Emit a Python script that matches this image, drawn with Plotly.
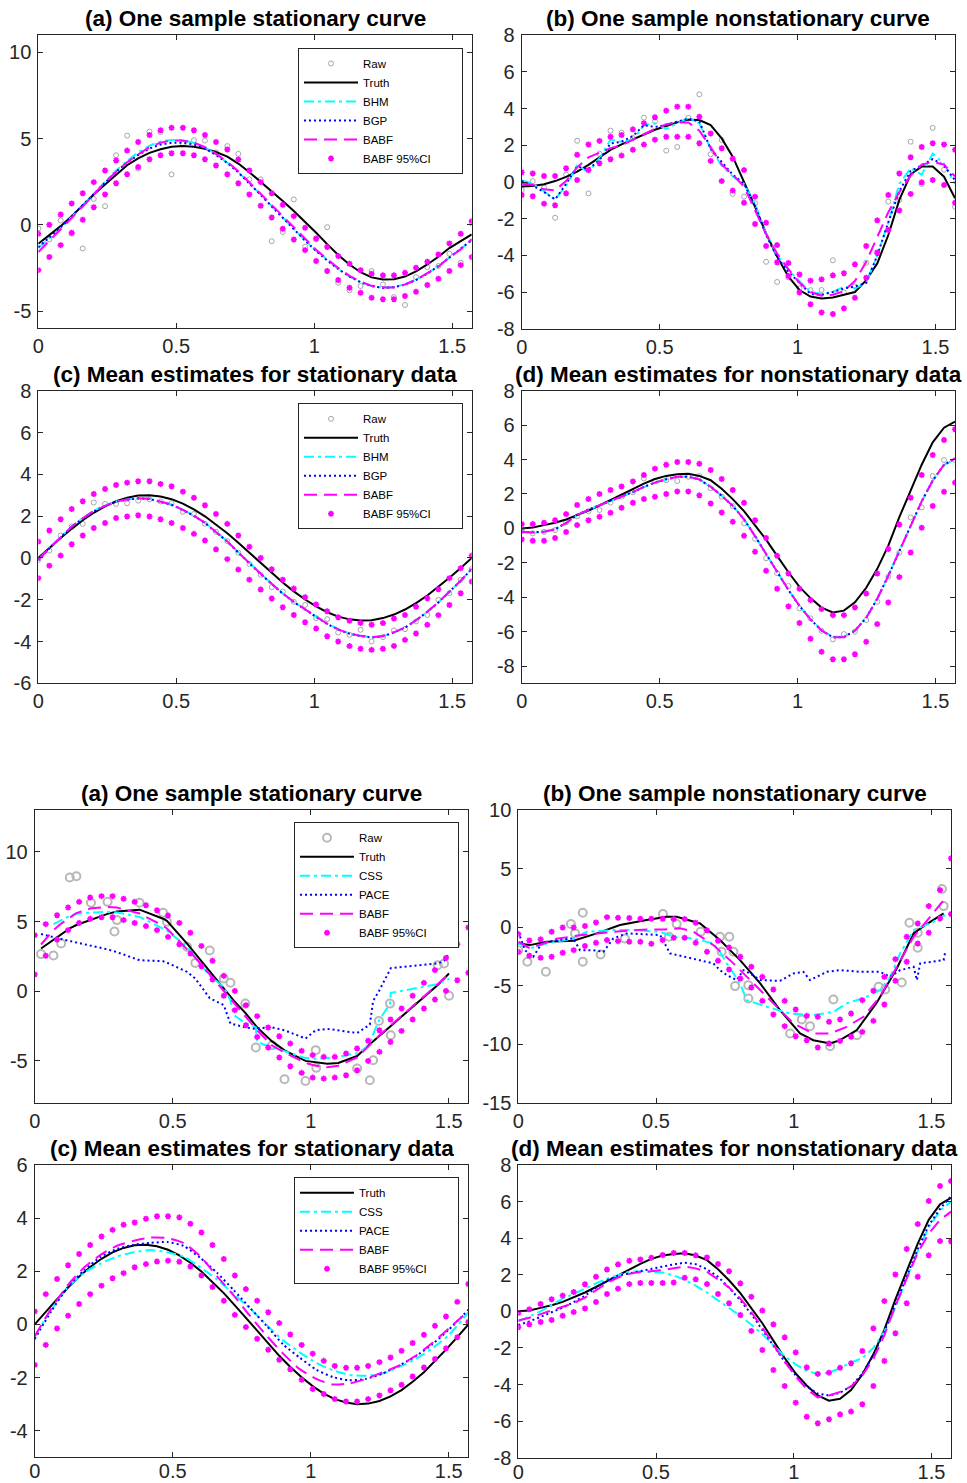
import plotly.graph_objects as go

W, H = 967, 1483
FONT = "Liberation Sans, Arial, Helvetica, sans-serif"

# common evaluation grid (0 .. pi/2, 40 points)
X40 = [0.000, 0.040, 0.081, 0.121, 0.161, 0.201, 0.242, 0.282, 0.322, 0.362,
       0.403, 0.443, 0.483, 0.524, 0.564, 0.604, 0.644, 0.685, 0.725, 0.765,
       0.806, 0.846, 0.886, 0.926, 0.967, 1.007, 1.047, 1.087, 1.128, 1.168,
       1.208, 1.249, 1.289, 1.329, 1.369, 1.410, 1.450, 1.490, 1.531, 1.571]

# shared truths
TRUTH_S = [0, 0.48, 0.95, 1.39, 1.80, 2.16, 2.47, 2.71, 2.88, 2.98, 3.0, 2.94, 2.81, 2.6, 2.32,
           1.99, 1.6, 1.18, 0.72, 0.24, -0.24, -0.72, -1.18, -1.6, -1.99, -2.32, -2.6, -2.81,
           -2.94, -3.0, -2.98, -2.88, -2.71, -2.47, -2.16, -1.8, -1.39, -0.95, -0.48, 0.0]
TRUTH_NS = [0.0, 0.05, 0.19, 0.33, 0.52, 0.76, 1.03, 1.33, 1.65, 1.97, 2.29, 2.6, 2.87, 3.05,
            3.14, 3.18, 3.05, 2.8, 2.3, 1.7, 1.0, 0.2, -0.65, -1.6, -2.55, -3.4, -4.05, -4.6,
            -4.88, -4.78, -4.3, -3.45, -2.35, -1.0, 0.65, 2.2, 3.7, 5.0, 5.85, 6.2]

# ---------- Top (a) ----------
RAW_TA = [-0.21, -0.85, 0.25, -0.52, -1.37, 1.5, 1.08, 4.03, 5.17, 3.26, 5.4, 5.37, 2.92, 4.7,
          4.9, 4.88, 4.2, 4.56, 4.11, 2.63, 2.63, -0.95, -0.42, 1.47, -1.27, -0.85, -0.14,
          -3.36, -3.8, -3.55, -2.68, -3.46, -4.19, -4.65, -3.03, -2.45, -2.39, -1.68, -2.2, 0.08]
TRUTH_TA = [-1.1, -0.6, -0.08, 0.5, 1.12, 1.76, 2.33, 2.9, 3.45, 3.85, 4.17, 4.38, 4.52, 4.56,
            4.52, 4.40, 4.22, 3.95, 3.55, 3.05, 2.5, 1.95, 1.38, 0.8, 0.18, -0.46, -1.12, -1.75,
            -2.3, -2.75, -3.05, -3.17, -3.15, -3.0, -2.7, -2.3, -1.85, -1.35, -0.95, -0.56]
BHM_TA = [-1.35, -0.8, -0.2, 0.45, 1.1, 1.8, 2.5, 3.15, 3.7, 4.2, 4.58, 4.83, 4.92, 4.9, 4.75,
          4.47, 4.08, 3.6, 3.05, 2.42, 1.75, 1.08, 0.42, -0.25, -0.9, -1.5, -2.05, -2.55, -3.0,
          -3.32, -3.55, -3.65, -3.6, -3.45, -3.18, -2.82, -2.4, -1.9, -1.4, -0.9]
BGP_TA = [-1.3, -0.75, -0.15, 0.5, 1.15, 1.82, 2.48, 3.08, 3.6, 4.05, 4.42, 4.65, 4.75, 4.76,
          4.66, 4.42, 4.05, 3.58, 3.03, 2.4, 1.73, 1.06, 0.4, -0.27, -0.92, -1.52, -2.07, -2.56,
          -3.0, -3.33, -3.56, -3.66, -3.62, -3.47, -3.2, -2.83, -2.4, -1.9, -1.4, -0.88]
BABF_TA = [-1.58, -0.94, -0.29, 0.39, 1.06, 1.75, 2.46, 3.07, 3.62, 4.08, 4.5, 4.76, 4.89, 4.89,
           4.76, 4.5, 4.12, 3.65, 3.1, 2.46, 1.79, 1.13, 0.47, -0.18, -0.82, -1.45, -1.99, -2.5,
           -2.96, -3.29, -3.54, -3.63, -3.63, -3.46, -3.19, -2.82, -2.43, -1.88, -1.43, -0.83]
CIU_TA = [-0.52, 0.0, 0.6, 1.24, 1.83, 2.47, 3.15, 3.73, 4.3, 4.8, 5.2, 5.48, 5.62, 5.62, 5.48,
          5.2, 4.8, 4.36, 3.78, 3.15, 2.47, 1.83, 1.16, 0.5, -0.17, -0.79, -1.29, -1.81, -2.26,
          -2.63, -2.84, -2.93, -2.93, -2.78, -2.49, -2.14, -1.72, -1.08, -0.52, 0.21]
CIL_TA = [-2.63, -1.87, -1.18, -0.46, 0.29, 1.02, 1.76, 2.41, 2.93, 3.35, 3.8, 4.03, 4.15, 4.15,
          4.03, 3.8, 3.44, 2.93, 2.41, 1.76, 1.1, 0.42, -0.23, -0.85, -1.47, -2.1, -2.68, -3.2,
          -3.65, -3.94, -4.23, -4.32, -4.32, -4.13, -3.88, -3.49, -3.13, -2.68, -2.34, -1.87]

# ---------- Top (b) ----------
RAW_TB = [-0.44, 0.05, -0.3, -1.95, 0.4, 2.25, -0.62, 1.55, 2.8, 2.69, 2.4, 3.51, 3.3, 1.71,
          1.91, 3.5, 4.78, 1.51, 2.29, -0.65, -0.8, -1.16, -4.35, -5.45, -5.2, -5.8, -5.9,
          -5.89, -4.27, -6.02, -5.7, -4.4, -3.9, -1.07, -0.98, 2.2, -0.11, 2.95, 0.67, -1.35]
TRUTH_TB = [-0.25, -0.22, -0.12, 0.05, 0.28, 0.56, 0.93, 1.35, 1.75, 2.05, 2.33, 2.6, 2.85, 3.05,
            3.25, 3.4, 3.38, 3.1, 2.38, 1.38, 0.02, -1.35, -2.8, -4.07, -5.16, -5.89, -6.25,
            -6.35, -6.3, -6.15, -6.0, -5.35, -4.44, -2.89, -0.98, 0.42, 0.84, 0.84, 0.29, -0.89]
BHM_TB = [0.1, -0.1, -0.5, -0.95, -0.2, 0.9, 0.55, 1.3, 2.3, 2.2, 2.3, 3.1, 3.2, 2.9, 3.2, 3.5,
          3.2, 1.8, 0.9, 0.3, -0.1, -1.2, -2.8, -4.0, -4.8, -5.4, -6.0, -6.1, -6.0, -5.7, -5.8,
          -5.5, -4.0, -2.2, -0.1, 0.75, 0.4, 1.55, 1.0, -0.1]
BGP_TB = [0.05, -0.2, -0.55, -0.95, -0.1, 0.85, 0.7, 1.2, 2.1, 2.2, 2.5, 3.1, 3.0, 3.1, 3.3,
          3.45, 3.3, 1.8, 1.1, 0.4, -0.1, -1.3, -2.9, -4.1, -4.9, -5.5, -6.1, -6.15, -6.0, -5.8,
          -5.7, -5.5, -4.0, -2.2, -0.5, 0.6, 0.9, 1.25, 0.9, 0.1]
BABF_TB = [-0.1, -0.15, -0.4, -0.45, 0.05, 0.8, 1.35, 1.6, 1.85, 2.0, 2.3, 2.6, 2.9, 3.15, 3.25,
           3.25, 2.8, 1.9, 0.95, 0.4, -0.25, -1.55, -2.85, -3.9, -4.75, -5.5, -6.0, -6.2, -6.15,
           -5.95, -5.4, -4.35, -2.95, -1.65, -0.55, 0.35, 0.95, 1.1, 0.95, 0.3]
CIU_TB = [0.53, 0.47, 0.33, 0.33, 0.75, 1.49, 2.05, 2.24, 2.47, 2.56, 2.87, 3.2, 3.53, 3.89, 4.11,
          4.11, 3.56, 2.65, 1.84, 1.27, 0.65, -0.8, -2.22, -3.44, -4.42, -5.04, -5.38, -5.31,
          -5.09, -4.98, -4.49, -3.49, -2.09, -0.71, 0.47, 1.35, 1.91, 2.11, 2.05, 1.76]
CIL_TB = [-0.71, -0.78, -1.18, -1.27, -0.62, 0.11, 0.65, 1.02, 1.24, 1.44, 1.76, 2.04, 2.31, 2.47,
          2.47, 2.47, 2.11, 1.15, 0.05, -0.47, -1.13, -2.29, -3.49, -4.38, -5.13, -6.02, -6.67,
          -7.11, -7.2, -6.89, -6.31, -5.22, -3.84, -2.62, -1.55, -0.65, -0.02, 0.11, -0.16, -1.13]

# ---------- Top (c) ----------
RAW_TC = [-0.1, 0.35, 1.07, 1.5, 1.63, 2.65, 2.58, 2.58, 2.61, 2.74, 2.8, 2.7, 2.61, 2.2, 2.1,
          1.63, 1.25, 0.8, 0.25, -0.29, -0.81, -1.4, -1.61, -2.1, -2.25, -2.88, -2.93, -3.57,
          -3.68, -3.44, -4.0, -3.79, -3.47, -3.41, -3.04, -2.73, -2.01, -1.69, -1.05, -0.54]
BHM_TC = [-0.08, 0.48, 1.0, 1.51, 1.9, 2.26, 2.5, 2.7, 2.8, 2.86, 2.83, 2.71, 2.55, 2.31, 2.02,
          1.68, 1.26, 0.79, 0.27, -0.25, -0.75, -1.23, -1.69, -2.1, -2.48, -2.81, -3.14, -3.41,
          -3.61, -3.73, -3.79, -3.74, -3.56, -3.33, -2.99, -2.58, -2.13, -1.62, -1.1, -0.52]
BGP_TC = [-0.12, 0.46, 0.97, 1.49, 1.88, 2.24, 2.48, 2.69, 2.78, 2.85, 2.82, 2.69, 2.54, 2.29,
          2.01, 1.67, 1.25, 0.78, 0.25, -0.27, -0.77, -1.25, -1.71, -2.11, -2.49, -2.82, -3.16,
          -3.43, -3.63, -3.74, -3.81, -3.75, -3.57, -3.34, -2.99, -2.58, -2.13, -1.62, -1.1, -0.52]
BABF_TC = [-0.1, 0.47, 0.98, 1.5, 1.89, 2.25, 2.49, 2.7, 2.79, 2.86, 2.83, 2.7, 2.55, 2.3, 2.02,
           1.68, 1.26, 0.79, 0.26, -0.26, -0.76, -1.24, -1.7, -2.1, -2.48, -2.81, -3.15, -3.42,
           -3.62, -3.73, -3.8, -3.74, -3.56, -3.33, -2.98, -2.57, -2.12, -1.61, -1.09, -0.51]
CIU_TC = [0.78, 1.31, 1.85, 2.34, 2.71, 3.06, 3.3, 3.49, 3.6, 3.67, 3.67, 3.54, 3.43, 3.17, 2.88,
          2.52, 2.1, 1.63, 1.07, 0.53, 0.0, -0.54, -1.04, -1.47, -1.88, -2.23, -2.55, -2.84,
          -3.01, -3.11, -3.2, -3.12, -2.9, -2.73, -2.34, -1.93, -1.5, -0.97, -0.49, 0.11]
CIL_TC = [-0.97, -0.37, 0.11, 0.65, 1.07, 1.43, 1.67, 1.91, 1.98, 2.04, 1.98, 1.85, 1.67, 1.43,
          1.15, 0.83, 0.41, -0.06, -0.56, -1.04, -1.51, -1.94, -2.36, -2.73, -3.08, -3.38, -3.75,
          -4.0, -4.22, -4.35, -4.4, -4.35, -4.21, -3.92, -3.62, -3.2, -2.74, -2.25, -1.69, -1.13]

# ---------- Top (d) ----------
RAW_TD = [-0.15, -0.29, -0.2, -0.1, 0.35, 0.7, 1.0, 1.07, 1.5, 1.84, 2.1, 2.9, 2.75, 2.8, 2.75,
          3.0, 3.04, 2.33, 1.84, 1.3, 0.29, -0.6, -1.74, -2.6, -3.35, -4.65, -5.23, -5.95, -6.45,
          -6.14, -6.0, -5.33, -4.26, -2.81, -1.41, 0.64, 1.22, 3.04, 3.97, 3.97]
BHM_TD = [-0.22, -0.25, -0.2, -0.04, 0.3, 0.77, 1.08, 1.33, 1.57, 1.82, 2.1, 2.4, 2.66, 2.86,
          3.0, 3.01, 2.85, 2.43, 1.9, 1.31, 0.53, -0.45, -1.5, -2.55, -3.57, -4.5, -5.28, -5.92,
          -6.3, -6.3, -5.94, -5.19, -4.09, -2.75, -1.3, 0.2, 1.57, 2.78, 3.68, 4.03]
BGP_TD = [-0.18, -0.23, -0.19, -0.05, 0.31, 0.78, 1.09, 1.34, 1.57, 1.82, 2.11, 2.41, 2.66, 2.85,
          3.0, 3.0, 2.84, 2.42, 1.9, 1.31, 0.53, -0.45, -1.51, -2.55, -3.58, -4.5, -5.29, -5.93,
          -6.32, -6.32, -5.95, -5.19, -4.09, -2.75, -1.3, 0.19, 1.57, 2.78, 3.7, 4.05]
BABF_TD = [-0.2, -0.24, -0.2, -0.05, 0.31, 0.78, 1.09, 1.34, 1.57, 1.82, 2.11, 2.41, 2.66, 2.85,
           3.0, 3.0, 2.84, 2.42, 1.9, 1.31, 0.53, -0.45, -1.51, -2.55, -3.58, -4.5, -5.29, -5.93,
           -6.32, -6.32, -5.95, -5.19, -4.09, -2.75, -1.3, 0.19, 1.57, 2.78, 3.7, 4.05]
CIU_TD = [0.25, 0.25, 0.33, 0.47, 0.83, 1.36, 1.71, 2.0, 2.23, 2.44, 2.73, 3.1, 3.47, 3.7, 3.86,
          3.86, 3.76, 3.39, 2.87, 2.23, 1.49, 0.47, -0.56, -1.59, -2.62, -3.51, -4.17, -4.69,
          -5.04, -5.04, -4.59, -3.78, -2.62, -1.2, 0.23, 1.78, 3.1, 4.26, 5.14, 5.76]
CIL_TD = [-0.64, -0.72, -0.72, -0.56, -0.21, 0.19, 0.47, 0.68, 0.91, 1.2, 1.49, 1.71, 1.84, 2.0,
          2.15, 2.15, 1.92, 1.45, 0.93, 0.39, -0.43, -1.36, -2.46, -3.51, -4.53, -5.5, -6.41,
          -7.17, -7.6, -7.6, -7.31, -6.59, -5.56, -4.3, -2.83, -1.4, 0.04, 1.3, 2.13, 2.66]

# ---------- Bottom (a) ----------
XL_BA = [0.023, 0.068, 0.096, 0.127, 0.151, 0.204, 0.264, 0.298, 0.38, 0.465, 0.479, 0.552,
         0.582, 0.634, 0.685, 0.709, 0.722, 0.763, 0.801, 0.806, 0.86, 0.905, 0.981, 1.018,
         1.06, 1.1, 1.168, 1.214, 1.226, 1.247, 1.287, 1.29, 1.46, 1.483, 1.501]
TRUTH_BA = [3.06, 3.7, 4.1, 4.5, 4.75, 5.15, 5.55, 5.72, 5.85, 5.2, 5.05, 3.42, 2.7, 1.4, 0.2,
            -0.4, -0.7, -1.55, -2.5, -2.6, -3.6, -4.25, -5.0, -5.1, -5.2, -5.15, -4.65, -3.8,
            -3.6, -3.2, -2.55, -2.5, 0.45, 0.95, 1.27]
CSS_BA = [None, 4.81, 5.1, 5.4, 5.55, 5.65, 5.69, 5.65, 5.33, 4.5, 4.35, 3.2, 2.4, 1.1, 0.3,
          -0.65, -1.72, -2.3, -2.6, -3.64, -4.05, -4.3, -4.8, -4.85, -4.8, -4.7, -4.45, -3.9,
          -3.1, -2.1, -0.9, -0.12, 0.5, 0.7, 0.9]
PACE_BA = [4.1, 3.85, 3.75, 3.6, 3.5, 3.25, 3.0, 2.8, 2.22, 2.15, 2.05, 1.39, 0.9, -0.5, -1.0,
           -2.32, -2.4, -2.6, -2.7, -2.65, -2.6, -2.8, -3.4, -2.8, -2.7, -2.8, -3.0, -2.4, -0.7,
           0.0, 1.6, 1.65, 1.99, 2.18, 2.7]
BABF_BA = [3.35, 4.38, 4.85, 5.3, 5.6, 5.95, 6.05, 6.0, 5.57, 4.7, 4.5, 3.0, 2.4, 1.2, 0.0, -0.6,
           -0.9, -1.8, -2.7, -2.8, -3.9, -4.4, -5.15, -5.35, -5.45, -5.35, -4.75, -3.85, -3.6,
           -3.2, -2.5, -2.45, 0.5, 0.9, 1.25]
RAWX_BA = [0.023, 0.068, 0.096, 0.127, 0.151, 0.204, 0.264, 0.289, 0.298, 0.38, 0.465, 0.479,
           0.552, 0.582, 0.634, 0.685, 0.709, 0.763, 0.801, 0.86, 0.905, 0.981, 1.018, 1.02,
           1.168, 1.214, 1.226, 1.247, 1.287, 1.29, 1.46, 1.483, 1.501]
RAWY_BA = [2.66, 2.56, 3.42, 8.16, 8.25, 6.34, 6.41, 4.28, 5.1, 6.34, 5.62, 4.98, 3.18, 2.03,
           2.92, 0.91, 0.6, -0.89, -4.04, -3.88, -6.32, -6.44, -4.23, -5.5, -5.55, -6.39, -4.95,
           -2.13, -0.89, -3.16, 1.87, 1.99, -0.33]
CIU_BA = [4.02, 4.81, 5.45, 6.0, 6.41, 6.72, 6.82, 6.82, 6.63, 6.41, 6.17, 5.81, 5.43, 4.9, 4.19,
          3.25, 2.18, 1.1, 0.02, -1.0, -1.79, -2.61, -3.23, -3.76, -4.28, -4.59, -4.71, -4.71,
          -4.47, -4.11, -3.56, -2.8, -2.03, -1.24, -0.33, 0.6, 1.51, 2.39, 3.37, 4.57]
CIL_BA = [1.2, 2.54, 3.71, 4.38, 4.9, 5.19, 5.31, 5.31, 5.1, 4.9, 4.67, 4.38, 3.9, 3.37, 2.7,
          1.79, 0.84, -0.33, -1.36, -2.44, -3.28, -4.04, -4.76, -5.38, -5.86, -6.2, -6.27, -6.2,
          -6.03, -5.67, -5.0, -4.35, -3.64, -2.85, -2.03, -1.24, -0.6, 0.02, 0.79, 1.32]

# ---------- Bottom (b) ----------
TRUTHX_BB = [0, 0.042, 0.103, 0.2, 0.285, 0.369, 0.466, 0.539, 0.575, 0.66, 0.732, 0.805, 0.878,
             0.95, 1.023, 1.071, 1.132, 1.168, 1.229, 1.300, 1.374, 1.435, 1.483, 1.544]
TRUTHY_BB = [-1.4, -1.54, -1.25, -1.17, -0.54, 0.17, 0.6, 0.88, 0.88, 0.31, -1.11, -2.82, -4.81,
             -7.09, -9.09, -9.66, -9.94, -9.66, -8.8, -6.5, -3.53, -0.54, 0.26, 1.17]
CSSX_BB = [0, 0.042, 0.103, 0.2, 0.248, 0.345, 0.418, 0.515, 0.563, 0.636, 0.708, 0.732, 0.757,
           0.805, 0.829, 0.902, 0.987, 1.071, 1.144, 1.192, 1.265, 1.313, 1.350, 1.386, 1.435,
           1.507, 1.550]
CSSY_BB = [-1.4, -1.82, -1.4, -0.97, -0.4, -0.26, -0.26, -0.4, -0.83, -0.97, -1.4, -2.11, -3.1,
           -4.81, -6.24, -6.81, -7.38, -7.52, -7.24, -6.52, -5.95, -5.38, -4.25, -2.25, -0.26,
           0.46, 1.03]
PACEX_BB = [0, 0.024, 0.054, 0.085, 0.139, 0.2, 0.224, 0.272, 0.309, 0.345, 0.394, 0.515, 0.551,
            0.636, 0.708, 0.732, 0.757, 0.793, 0.817, 0.841, 0.878, 0.950, 0.999, 1.035, 1.059,
            1.120, 1.168, 1.241, 1.313, 1.350, 1.386, 1.435, 1.447, 1.459, 1.508, 1.544, 1.550]
PACEY_BB = [-0.4, -1.97, -2.54, -1.4, -1.11, -0.97, -1.97, -1.97, -2.11, -0.97, -0.54, -0.68,
            -2.25, -2.68, -3.1, -3.68, -4.1, -4.53, -3.68, -3.96, -4.53, -4.59, -3.96, -3.82,
            -4.53, -3.82, -3.68, -3.82, -3.82, -4.25, -3.68, -3.39, -4.53, -3.1, -2.96, -2.82,
            -2.11]
BABFX_BB = [0, 0.042, 0.139, 0.224, 0.345, 0.466, 0.527, 0.587, 0.636, 0.708, 0.781, 0.853,
            0.926, 0.999, 1.071, 1.132, 1.192, 1.253, 1.313, 1.374, 1.435, 1.495, 1.550]
BABFY_BB = [-1.25, -1.82, -1.0, -0.7, -0.4, -0.2, -0.2, -0.1, -0.4, -1.54, -3.1, -4.81, -6.52,
            -8.23, -9.09, -9.09, -8.52, -7.66, -5.95, -3.39, -0.83, 0.88, 2.45]
RAWX_BB = [0, 0.033, 0.1, 0.191, 0.206, 0.234, 0.234, 0.299, 0.387, 0.525, 0.547, 0.575, 0.662,
           0.732, 0.738, 0.766, 0.781, 0.787, 0.835, 0.835, 0.987, 1.029, 1.059, 1.132, 1.144,
           1.229, 1.308, 1.332, 1.392, 1.42, 1.45, 1.45, 1.538, 1.544]
RAWY_BB = [-1.97, -2.96, -3.82, 0.26, -0.54, 1.23, -2.96, -2.34, -0.97, 1.11, -0.83, 0.26, -0.4,
           -0.83, -2.11, -0.83, -2.11, -5.04, -6.1, -4.96, -9.09, -7.89, -8.46, -10.17, -6.18,
           -9.23, -5.1, -5.33, -4.73, 0.37, -0.48, -1.77, 3.25, 1.79]
CIU_BB = [-0.6, -1.14, -1.05, -0.4, -0.03, -0.03, 0.09, 0.4, 0.85, 0.8, 0.77, 0.71, 0.71, 0.71,
          0.68, 0.68, 0.37, -0.28, -1.17, -1.74, -2.54, -3.39, -4.25, -5.33, -6.3, -7.04, -7.58,
          -7.66, -8.09, -7.89, -7.38, -6.24, -5.44, -4.25, -2.74, -0.83, 0.31, 1.79, 3.16, 5.87]
CIL_BB = [-2.11, -2.45, -2.62, -2.54, -2.19, -1.97, -1.62, -1.34, -1.11, -1.2, -1.25, -1.25,
          -1.42, -1.11, -0.91, -0.91, -1.34, -2.11, -2.88, -3.62, -4.39, -5.16, -6.3, -7.46,
          -8.46, -9.32, -9.66, -10.28, -9.94, -9.72, -9.37, -8.95, -8.01, -6.61, -4.59, -2.96,
          -1.4, -0.48, 0.74, 1.11]

# ---------- Bottom (c) ----------
XS_BC = [0, 0.06, 0.12, 0.18, 0.24, 0.3, 0.36, 0.42, 0.48, 0.54, 0.6, 0.66, 0.72, 0.78, 0.84,
         0.9, 0.96, 1.02, 1.08, 1.14, 1.2, 1.26, 1.32, 1.38, 1.44, 1.5, 1.571]
CSS_BC = [-0.45, 0.55, 1.4, 1.95, 2.3, 2.56, 2.72, 2.8, 2.72, 2.55, 2.15, 1.7, 1.15, 0.6, -0.02,
          -0.6, -1.05, -1.45, -1.72, -1.9, -1.93, -1.85, -1.6, -1.3, -0.9, -0.4, 0.45]
PACE_BC = [-0.55, 0.5, 1.4, 2.05, 2.55, 2.85, 3.0, 3.07, 3.1, 2.95, 2.5, 1.95, 1.3, 0.62, -0.05,
           -0.75, -1.25, -1.7, -1.98, -2.1, -2.05, -1.85, -1.55, -1.2, -0.75, -0.2, 0.55]
BABF_BC = [-0.45, 0.6, 1.48, 2.15, 2.63, 2.97, 3.15, 3.27, 3.25, 3.06, 2.56, 1.82, 1.1, 0.32,
           -0.42, -1.1, -1.68, -2.05, -2.26, -2.22, -2.05, -1.8, -1.55, -1.18, -0.7, -0.15, 0.5]
CIU_BC = [0.49, 1.14, 1.71, 2.23, 2.65, 2.99, 3.31, 3.56, 3.75, 3.84, 3.98, 4.07, 4.07, 4.03, 3.79,
          3.46, 2.99, 2.46, 1.84, 1.33, 0.89, 0.46, 0.05, -0.38, -0.77, -1.1, -1.37, -1.56, -1.63,
          -1.63, -1.56, -1.42, -1.24, -0.99, -0.7, -0.39, -0.05, 0.3, 0.85, 1.52]
CIL_BC = [-1.52, -0.77, -0.15, 0.33, 0.77, 1.14, 1.46, 1.74, 1.93, 2.15, 2.27, 2.37, 2.4, 2.36,
          2.18, 1.84, 1.41, 0.89, 0.36, -0.1, -0.54, -0.95, -1.33, -1.69, -2.08, -2.43, -2.62,
          -2.81, -2.9, -2.9, -2.81, -2.67, -2.48, -2.27, -1.96, -1.62, -1.3, -0.9, -0.48, 0.09]

# ---------- Bottom (d) ----------
CSS_BD = [-0.55, -0.3, 0.0, 0.35, 0.7, 0.95, 1.25, 1.53, 1.78, 1.97, 2.17, 2.18, 2.17, 2.12, 1.97,
          1.72, 1.4, 1.03, 0.6, 0.2, -0.25, -0.73, -1.25, -1.85, -2.45, -2.9, -3.25, -3.43, -3.36,
          -3.1, -2.8, -2.55, -2.0, -1.1, 0.2, 1.8, 3.3, 4.6, 5.5, 6.0]
PACE_BD = [-0.75, -0.55, -0.3, -0.05, 0.2, 0.5, 0.85, 1.3, 1.7, 1.95, 2.08, 2.2, 2.3, 2.45, 2.57,
           2.66, 2.58, 2.3, 1.89, 1.3, 0.6, -0.15, -1.0, -1.9, -2.75, -3.5, -4.1, -4.5, -4.6,
           -4.45, -4.1, -3.4, -2.4, -1.1, 0.4, 1.9, 3.4, 4.7, 5.6, 6.3]
BABF_BD = [-0.5, -0.35, -0.15, 0.05, 0.25, 0.45, 0.75, 1.15, 1.55, 1.85, 2.05, 2.15, 2.2, 2.25,
           2.35, 2.45, 2.35, 2.15, 1.75, 1.3, 0.7, -0.05, -0.9, -1.85, -2.75, -3.55, -4.25, -4.7,
           -4.6, -4.4, -4.1, -3.5, -2.6, -1.3, 0.3, 1.8, 3.2, 4.25, 5.0, 5.45]
CIU_BD = [-0.09, 0.11, 0.4, 0.66, 0.86, 1.06, 1.48, 1.89, 2.29, 2.57, 2.77, 2.84, 2.93, 3.08, 3.19,
          3.19, 3.06, 2.95, 2.59, 2.19, 1.53, 0.8, 0.04, -0.71, -1.42, -2.24, -3.06, -3.42, -3.35,
          -3.08, -2.84, -2.17, -0.93, 0.56, 2.02, 3.41, 4.77, 6.03, 6.85, 7.12]
CIL_BD = [-0.87, -0.71, -0.58, -0.47, -0.24, -0.04, 0.16, 0.51, 0.95, 1.24, 1.49, 1.55, 1.55,
          1.55, 1.58, 1.84, 1.75, 1.49, 0.95, 0.44, -0.2, -1.07, -2.11, -3.21, -4.08, -4.99,
          -5.76, -6.12, -5.9, -5.63, -5.48, -5.08, -4.08, -2.71, -1.2, 0.44, 1.89, 3.06, 3.84, 3.83]

TITLES = ["(a) One sample stationary curve", "(b) One sample nonstationary curve",
          "(c) Mean estimates for stationary data", "(d) Mean estimates for nonstationary data",
          "(a) One sample stationary curve", "(b) One sample nonstationary curve",
          "(c) Mean estimates for stationary data", "(d) Mean estimates for nonstationary data"]
YTICKS = [[-5, 0, 5, 10], [-8, -6, -4, -2, 0, 2, 4, 6, 8], [-6, -4, -2, 0, 2, 4, 6, 8],
          [-8, -6, -4, -2, 0, 2, 4, 6, 8], [-5, 0, 5, 10], [-15, -10, -5, 0, 5, 10],
          [-4, -2, 0, 2, 4, 6], [-8, -6, -4, -2, 0, 2, 4, 6, 8]]
XTICKS = [0, 0.5, 1, 1.5]
XTICKTEXT = ['0', '0.5', '1', '1.5']

# ---------------- layout geometry (pixels) ----------------
PANELS = [(38.3, 35.0, 471.7, 328.3), (521.7, 35.3, 955.0, 328.7),
          (38.3, 390.7, 471.7, 683.3), (521.7, 390.7, 955.0, 683.3),
          (34.7, 810.0, 468.3, 1102.7), (518.3, 810.0, 951.0, 1102.7),
          (34.7, 1165.0, 468.3, 1457.3), (518.3, 1165.0, 951.0, 1457.7)]
YRANGES = [(-6, 11), (-8, 8), (-6, 8), (-9, 8), (-8, 13), (-15, 10), (-5, 6), (-8, 8)]
XMAX = 1.5708
PAD = '\u00a0' * 8   # widens legend boxes like the MATLAB ones

STY = {
    'truth': dict(mode='lines', line=dict(color='black', width=2)),
    'cyan': dict(mode='lines', line=dict(color='#00FFFF', width=2, dash='10px,4px,3px,4px')),
    'blue': dict(mode='lines', line=dict(color='#0000FF', width=2, dash='2px,3px')),
    'mag': dict(mode='lines', line=dict(color='#FF00FF', width=2, dash='13px,7px')),
    'ci': dict(mode='markers', marker=dict(symbol='asterisk-open', size=5, color='#FF00FF',
                                           line=dict(color='#FF00FF', width=1.6))),
    'raw_s': dict(mode='markers', marker=dict(symbol='circle-open', size=5, color='#a6a6a6',
                                              line=dict(color='#a6a6a6', width=1))),
    'raw_l': dict(mode='markers', marker=dict(symbol='circle-open', size=8, color='#b8b8b8',
                                              line=dict(color='#b8b8b8', width=2))),
}

fig = go.Figure()


def add(k, x, y, name, kind, legend=None, spline=False):
    st = STY[kind]
    kw = dict(x=x, y=y, name=name, mode=st['mode'],
              xaxis='x' if k == 0 else f'x{k+1}', yaxis='y' if k == 0 else f'y{k+1}',
              showlegend=legend is not None, hoverinfo='skip')
    if 'line' in st:
        kw['line'] = dict(st['line'])
        if spline:
            kw['line']['shape'] = 'spline'
            kw['line']['smoothing'] = 0.6
    if 'marker' in st:
        kw['marker'] = st['marker']
    if legend is not None:
        kw['legend'] = legend
    fig.add_trace(go.Scatter(**kw))


def ci(U, L):
    return X40 + X40, U + L

CI_NAME = 'BABF 95%CI' + PAD

# top (a)
add(0, X40, RAW_TA, 'Raw', 'raw_s', 'legend')
add(0, X40, TRUTH_TA, 'Truth', 'truth', 'legend')
add(0, X40, BHM_TA, 'BHM', 'cyan', 'legend')
add(0, X40, BGP_TA, 'BGP', 'blue', 'legend')
add(0, X40, BABF_TA, 'BABF', 'mag', 'legend')
add(0, *ci(CIU_TA, CIL_TA), CI_NAME, 'ci', 'legend')
# top (b)
add(1, X40, RAW_TB, 'Raw', 'raw_s')
add(1, X40, TRUTH_TB, 'Truth', 'truth')
add(1, X40, BHM_TB, 'BHM', 'cyan')
add(1, X40, BGP_TB, 'BGP', 'blue')
add(1, X40, BABF_TB, 'BABF', 'mag')
add(1, *ci(CIU_TB, CIL_TB), 'BABF 95%CI', 'ci')
# top (c)
add(2, X40, RAW_TC, 'Raw', 'raw_s', 'legend2')
add(2, X40, TRUTH_S, 'Truth', 'truth', 'legend2')
add(2, X40, BHM_TC, 'BHM', 'cyan', 'legend2')
add(2, X40, BGP_TC, 'BGP', 'blue', 'legend2')
add(2, X40, BABF_TC, 'BABF', 'mag', 'legend2')
add(2, *ci(CIU_TC, CIL_TC), CI_NAME, 'ci', 'legend2')
# top (d)
add(3, X40, RAW_TD, 'Raw', 'raw_s')
add(3, X40, TRUTH_NS, 'Truth', 'truth')
add(3, X40, BHM_TD, 'BHM', 'cyan')
add(3, X40, BGP_TD, 'BGP', 'blue')
add(3, X40, BABF_TD, 'BABF', 'mag')
add(3, *ci(CIU_TD, CIL_TD), 'BABF 95%CI', 'ci')
# bottom (a)
add(4, RAWX_BA, RAWY_BA, 'Raw', 'raw_l', 'legend3')
add(4, XL_BA, TRUTH_BA, 'Truth', 'truth', 'legend3')
add(4, XL_BA, CSS_BA, 'CSS', 'cyan', 'legend3')
add(4, XL_BA, PACE_BA, 'PACE', 'blue', 'legend3')
add(4, XL_BA, BABF_BA, 'BABF', 'mag', 'legend3')
add(4, *ci(CIU_BA, CIL_BA), CI_NAME, 'ci', 'legend3')
# bottom (b)
add(5, RAWX_BB, RAWY_BB, 'Raw', 'raw_l')
add(5, TRUTHX_BB, TRUTHY_BB, 'Truth', 'truth')
add(5, CSSX_BB, CSSY_BB, 'CSS', 'cyan')
add(5, PACEX_BB, PACEY_BB, 'PACE', 'blue')
add(5, BABFX_BB, BABFY_BB, 'BABF', 'mag')
add(5, *ci(CIU_BB, CIL_BB), 'BABF 95%CI', 'ci')
# bottom (c)
add(6, X40, TRUTH_S, 'Truth', 'truth', 'legend4')
add(6, XS_BC, CSS_BC, 'CSS', 'cyan', 'legend4', spline=True)
add(6, XS_BC, PACE_BC, 'PACE', 'blue', 'legend4', spline=True)
add(6, XS_BC, BABF_BC, 'BABF', 'mag', 'legend4', spline=True)
add(6, *ci(CIU_BC, CIL_BC), CI_NAME, 'ci', 'legend4')
# bottom (d)
add(7, X40, TRUTH_NS, 'Truth', 'truth')
add(7, X40, CSS_BD, 'CSS', 'cyan')
add(7, X40, PACE_BD, 'PACE', 'blue')
add(7, X40, BABF_BD, 'BABF', 'mag')
add(7, *ci(CIU_BD, CIL_BD), 'BABF 95%CI', 'ci')

AX = dict(showline=True, mirror='ticks', ticks='inside', ticklen=5, linecolor='#262626',
          linewidth=1, tickcolor='#262626', showgrid=False, zeroline=False, automargin=False,
          tickfont=dict(family=FONT, size=20, color='#262626'))

lay = dict(width=W, height=H, autosize=False, margin=dict(l=0, r=0, t=0, b=0, pad=0),
           paper_bgcolor='white', plot_bgcolor='white', font=dict(family=FONT),
           annotations=[])
for k, (l, t, r, b) in enumerate(PANELS):
    xs = '' if k == 0 else str(k + 1)
    # the last row sits at the page edge: lift its x labels slightly so they stay visible
    xstand = -4 if k >= 6 else 0
    lay['xaxis' + xs] = dict(AX, domain=[l / W, r / W], anchor='y' + xs, range=[0, XMAX],
                             tickvals=XTICKS, ticktext=XTICKTEXT, ticklabelstandoff=xstand)
    lay['yaxis' + xs] = dict(AX, domain=[1 - b / H, 1 - t / H], anchor='x' + xs,
                             range=list(YRANGES[k]), tickvals=YTICKS[k],
                             ticktext=[str(v) for v in YTICKS[k]], ticklabelstandoff=2)
    lay['annotations'].append(dict(text=TITLES[k], x=(l + r) / 2 / W, y=1 - t / H,
                                   xref='paper', yref='paper', xanchor='center',
                                   yanchor='bottom', yshift=2, showarrow=False,
                                   font=dict(family=FONT, size=22.5, color='black', weight=700)))

LEG = dict(xanchor='left', yanchor='top', bgcolor='white', bordercolor='#262626',
           borderwidth=1, font=dict(family=FONT, size=11.5, color='black'), itemwidth=54,
           tracegroupgap=0, traceorder='normal')
lay['legend'] = dict(LEG, x=298 / W, y=1 - 48 / H)
lay['legend2'] = dict(LEG, x=298 / W, y=1 - 403.3 / H)
lay['legend3'] = dict(LEG, x=294 / W, y=1 - 822.3 / H)
lay['legend4'] = dict(LEG, x=294 / W, y=1 - 1177.3 / H)

fig.update_layout(**lay)
fig.write_html("out.html", config={'displayModeBar': False},
               post_script="document.documentElement.style.margin='0';"
                           "document.body.style.margin='0';"
                           "document.body.style.padding='0';"
                           "document.body.style.overflow='hidden';")
